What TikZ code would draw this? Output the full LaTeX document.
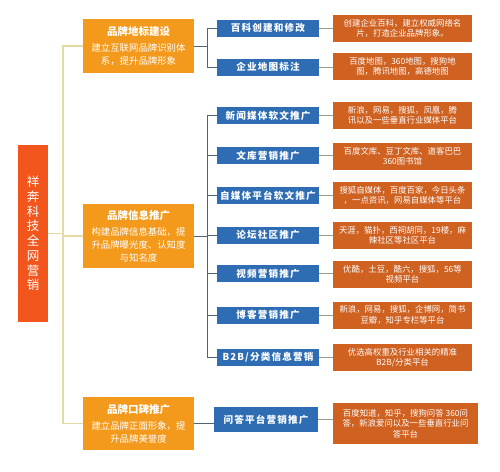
\documentclass[tikz,border=0pt]{standalone}
\usepackage{fontspec}
\setmainfont{Noto Sans CJK SC}
\newfontfamily\cjkls[LetterSpace=12]{Noto Sans CJK SC}
\definecolor{rootc}{HTML}{F2561D}
\definecolor{lvone}{HTML}{F39A1C}
\definecolor{bluec}{HTML}{2E6DB4}
\definecolor{darko}{HTML}{CF6121}
\definecolor{trunkc}{HTML}{E3DBA2}
\definecolor{branchc}{HTML}{4E6479}
\definecolor{leafc}{HTML}{9C9C8C}
\begin{document}
\begin{tikzpicture}[x=1pt,y=-1pt,
  rootbox/.style={fill=rootc,text=white,minimum width=30pt,minimum height=177pt,inner sep=0pt,align=center,font=\fontsize{12.5}{14.7}\selectfont},
  onebox/.style={fill=lvone,text=white,minimum width=111pt,inner sep=0pt,align=center,font=\fontsize{9.4}{13}\selectfont},
  bluebox/.style={fill=bluec,text=white,minimum width=102pt,minimum height=17pt,inner sep=0pt,font=\cjkls\bfseries\fontsize{9.6}{11}\selectfont},
  leafbox/.style={fill=darko,text=white,minimum width=139pt,minimum height=27pt,inner sep=0pt,align=center,font=\fontsize{8.4}{10.3}\selectfont},
  trunk/.style={draw=trunkc,line width=1.4pt},
  branch/.style={draw=branchc,line width=0.9pt},
  leafline/.style={draw=leafc,line width=0.9pt}]
\useasboundingbox (0,0) rectangle (500,471);

\newcommand{\ttl}[1]{{\fontsize{10.5}{12}\selectfont\bfseries #1}\\[3pt]}

\node[rootbox] (root) at (33,233.5) {祥\\奔\\科\\技\\全\\网\\营\\销};

\node[onebox,minimum height=54pt] (la) at (138.5,46) {\ttl{品牌地标建设}建立互联网品牌识别体\\系，提升品牌形象};
\node[onebox,minimum height=64pt] (lb) at (138.5,236) {\ttl{品牌信息推广}构建品牌信息基础，提\\升品牌曝光度、认知度\\与知名度};
\node[onebox,minimum height=53pt] (lc) at (138.5,423.5) {\ttl{品牌口碑推广}建立品牌正面形象，提\\升品牌美誉度};

\node[bluebox] (b1) at (268,28) {百科创建和修改};
\node[bluebox] (b2) at (268,67) {企业地图标注};
\node[bluebox] (b3) at (268,115.5) {新闻媒体软文推广};
\node[bluebox] (b4) at (268,155.5) {文库营销推广};
\node[bluebox] (b5) at (268,195.5) {自媒体平台软文推广};
\node[bluebox] (b6) at (268,235) {论坛社区推广};
\node[bluebox] (b7) at (268,273.5) {视频营销推广};
\node[bluebox] (b8) at (268,315) {博客营销推广};
\node[bluebox] (b9) at (268,357) {B2B/分类信息营销};
\node[bluebox,minimum width=104pt,minimum height=25pt] (b10) at (266,419.5) {问答平台营销推广};

\node[leafbox] (o1) at (402.5,28.5) {创建企业百科，建立权威网络名\\片，打造企业品牌形象。};
\node[leafbox] (o2) at (402.5,66.5) {百度地图，360地图，搜狗地\\图，腾讯地图，高德地图};
\node[leafbox] (o3) at (402.5,115.5) {新浪，网易，搜狐，凤凰，腾\\讯以及一些垂直行业媒体平台};
\node[leafbox] (o4) at (402.5,156.5) {百度文库、豆丁文库、道客巴巴\\360图书馆};
\node[leafbox] (o5) at (402.5,195.5) {搜狐自媒体，百度百家，今日头条\\，一点资讯，网易自媒体等平台};
\node[leafbox] (o6) at (402.5,235) {天涯，猫扑，西祠胡同，19楼，麻\\辣社区等社区平台};
\node[leafbox] (o7) at (402.5,274) {优酷，土豆，酷六，搜狐，56等\\视频平台};
\node[leafbox] (o8) at (402.5,315) {新浪，网易，搜狐，企博网，简书\\豆瓣，知乎专栏等平台};
\node[leafbox] (o9) at (402.5,357.5) {优选高权重及行业相关的精准\\B2B/分类平台};
\node[leafbox,minimum width=145pt,minimum height=41pt] (o10) at (405.5,423.5) {百度知道，知乎，搜狗问答 360问\\答，新浪爱问以及一些垂直行业问\\答平台};

% trunk
\coordinate (tk) at (63,0);
\draw[trunk] (la.west) -- (la.west -| tk) -- (lc.west -| tk) -- (lc.west);
\draw[trunk] (root.east) -- (root.east -| tk);
\draw[trunk] (lb.west) -- (lb.west -| tk);

% branches
\coordinate (br) at (207,0);
\draw[branch] (la.east) -- (la.east -| br);
\draw[branch] (b1.west) -- (b1.west -| br) -- (b2.west -| br) -- (b2.west);
\draw[branch] (lb.east) -- (lb.east -| br);
\draw[branch] (b3.west) -- (b3.west -| br) -- (b9.west -| br) -- (b9.west);
\foreach \i in {4,5,6,7,8} {\draw[branch] (b\i.west -| br) -- (b\i.west);}
\draw[branch] (lc.east) -- (lc.east -| b10.west);

% leaves
\foreach \i in {1,...,10} {\draw[leafline] (b\i.east) -- (b\i.east -| o\i.west);}
\end{tikzpicture}
\end{document}
